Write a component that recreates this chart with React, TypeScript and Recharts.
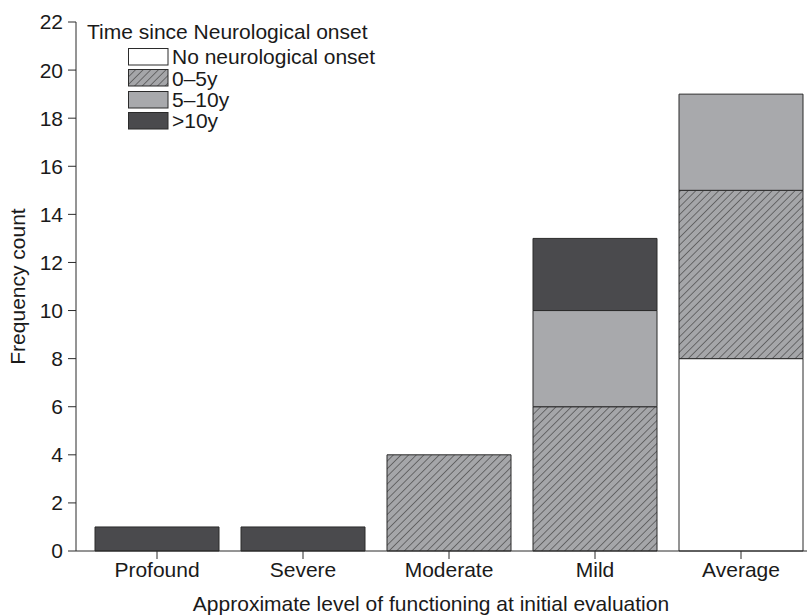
import { BarChart, Bar, XAxis, YAxis, Legend } from "recharts";

const levels = ["Profound", "Severe", "Moderate", "Mild", "Average"];
const noOnset = [0, 0, 0, 0, 8];
const years0to5 = [0, 0, 4, 6, 7];
const years5to10 = [0, 0, 0, 4, 4];
const over10 = [1, 1, 0, 3, 0];
const yTicks = [0, 2, 4, 6, 8, 10, 12, 14, 16, 18, 20, 22];

const data = levels.map((name, i) => ({
  name,
  none: noOnset[i],
  y05: years0to5[i],
  y510: years5to10[i],
  y10: over10[i],
}));

const font = "'Liberation Sans', Arial, sans-serif";
const ink = "#2b2b2b";
const fs = 21;

const legendItems = [
  { label: "No neurological onset", fill: "#ffffff" },
  { label: "0–5y", fill: "url(#hatch)" },
  { label: "5–10y", fill: "#a8a9ac" },
  { label: ">10y", fill: "#4a4a4d" },
];

function LegendBox() {
  return (
    <div style={{ fontFamily: font, color: "#1a1a1a", fontSize: fs, lineHeight: "21.3px" }}>
      <div style={{ marginBottom: 4 }}>Time since Neurological onset</div>
      {legendItems.map((it) => (
        <div key={it.label} style={{ display: "flex", alignItems: "center", marginLeft: 41, height: 21.3 }}>
          <svg width={41} height={18} style={{ marginRight: 3 }}>
            <rect x={0.5} y={0.5} width={39.5} height={16.5} fill={it.fill} stroke={ink} strokeWidth={1} />
          </svg>
          <span>{it.label}</span>
        </div>
      ))}
    </div>
  );
}

export default function App() {
  return (
    <div style={{ position: "absolute", left: 0, top: 0, width: 807, height: 615, overflow: "hidden", background: "#fff" }}>
      <BarChart
        width={815}
        height={615}
        data={data}
        margin={{ top: 22, right: 1, bottom: 0, left: 0 }}
        barCategoryGap={11}
      >
        <defs>
          <pattern id="hatch" patternUnits="userSpaceOnUse" width={5.4} height={5.4} patternTransform="rotate(45)">
            <rect width={5.4} height={5.4} fill="#a5a6a9" />
            <line x1={0} y1={0} x2={0} y2={5.4} stroke="#333" strokeWidth={1.1} />
          </pattern>
        </defs>
        <XAxis
          dataKey="name"
          height={64}
          padding={{ left: 8, right: 0 }}
          tickLine={{ stroke: ink }}
          axisLine={{ stroke: ink }}
          tickSize={8}
          tickMargin={3}
          tick={{ fill: "#1a1a1a", fontSize: fs, fontFamily: font }}
          label={{ value: "Approximate level of functioning at initial evaluation", position: "insideBottom", offset: 4, dx: -14, fill: "#1a1a1a", fontSize: fs, fontFamily: font }}
        />
        <YAxis
          width={76}
          domain={[0, 22]}
          ticks={yTicks}
          interval={0}
          tickLine={{ stroke: ink }}
          axisLine={{ stroke: ink }}
          tickSize={8}
          tickMargin={5}
          tick={{ fill: "#1a1a1a", fontSize: fs, fontFamily: font }}
          label={{ value: "Frequency count", angle: -90, position: "insideLeft", offset: 18, dy: 0, fill: "#1a1a1a", fontSize: fs, fontFamily: font, style: { textAnchor: "middle" } }}
        />
        <Legend
          layout="vertical"
          align="center"
          verticalAlign="middle"
          wrapperStyle={{ top: 21, left: 87, width: "auto" }}
          content={() => <LegendBox />}
        />
        <Bar dataKey="none" stackId="a" fill="#ffffff" stroke={ink} strokeWidth={1} isAnimationActive={false} />
        <Bar dataKey="y05" stackId="a" fill="url(#hatch)" stroke={ink} strokeWidth={1} isAnimationActive={false} />
        <Bar dataKey="y510" stackId="a" fill="#a8a9ac" stroke={ink} strokeWidth={1} isAnimationActive={false} />
        <Bar dataKey="y10" stackId="a" fill="#4a4a4d" stroke={ink} strokeWidth={1} isAnimationActive={false} />
      </BarChart>
    </div>
  );
}
